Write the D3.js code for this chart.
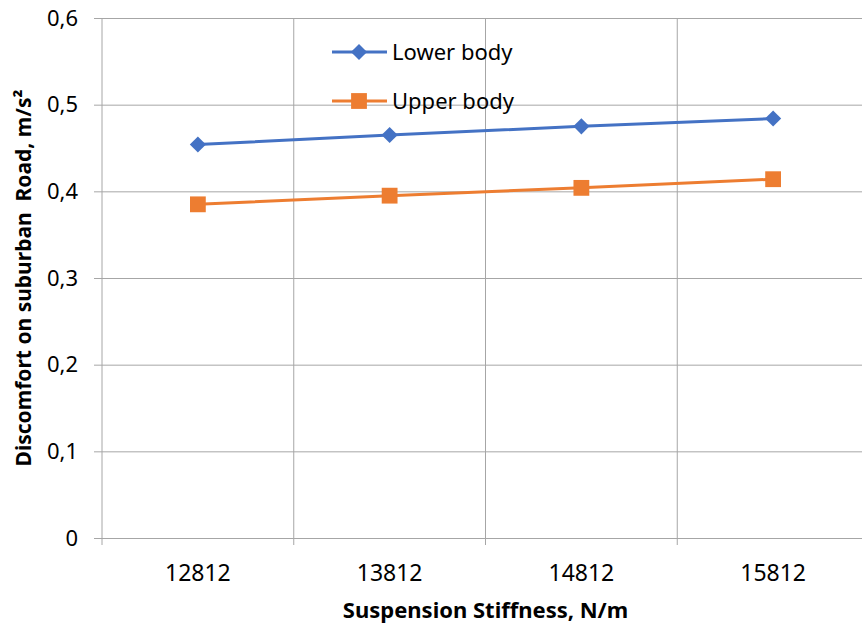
<!DOCTYPE html>
<html>
<head>
<meta charset="utf-8">
<script src="https://cdn.jsdelivr.net/npm/d3@7"></script>
<style>
  body { margin: 0; background: #fff; }
  svg { display: block; font-family: "Noto Sans", "Open Sans", sans-serif; }
  .grid line { stroke: #a6a6a6; stroke-width: 1; }
</style>
</head>
<body>
<svg id="chart"></svg>
<script>
// data
var stiffness = ["12812", "13812", "14812", "15812"];
var lowerBody = [0.454, 0.465, 0.475, 0.484];
var upperBody = [0.385, 0.395, 0.404, 0.414];
var yTicks = [0, 0.1, 0.2, 0.3, 0.4, 0.5, 0.6];

var W = 862, H = 630;
var plot = {left: 102, right: 869, top: 18, bottom: 538};
var blue = "#4472c4", orange = "#ed7d31";

var svg = d3.select("#chart").attr("width", W).attr("height", H);

var xScale = d3.scaleBand().domain(stiffness).range([plot.left, plot.right]).padding(0);
var yScale = d3.scaleLinear().domain([0, 0.6]).range([plot.bottom, plot.top]);

// horizontal gridlines + y tick labels
var yAxis = svg.append("g").attr("class", "grid")
  .attr("transform", "translate(" + plot.left + ",0)")
  .call(d3.axisLeft(yScale).tickValues(yTicks).tickSize(-(plot.right - plot.left)).tickSizeOuter(0)
    .tickFormat(function(d){ return d === 0 ? "0" : d3.format(".1f")(d).replace(".", ","); }));
yAxis.select(".domain").remove();
yAxis.selectAll(".tick line").attr("x1", -8);
yAxis.selectAll(".tick text").attr("x", -24).attr("font-size", 22).attr("fill", "#000").attr("font-family", "Noto Sans");

// vertical gridlines at band edges
var edges = stiffness.map(function(d){ return xScale(d); }).concat([plot.right]);
svg.append("g").attr("class", "grid").selectAll("line")
  .data(edges).join("line")
  .attr("x1", function(d){ return d; }).attr("x2", function(d){ return d; })
  .attr("y1", plot.top).attr("y2", plot.bottom + 7);

// x tick labels
svg.append("g").selectAll("text")
  .data(stiffness).join("text")
  .attr("x", function(d){ return xScale(d) + xScale.bandwidth() / 2; })
  .attr("y", 581)
  .attr("text-anchor", "middle")
  .attr("font-size", 23)
  .text(function(d){ return d; });

// series
var series = [
  {name: "Lower body", values: lowerBody, color: blue, size: 130, rot: 45},
  {name: "Upper body", values: upperBody, color: orange, size: 250, rot: 0}
];

var line = d3.line()
  .x(function(d, i){ return xScale(stiffness[i]) + xScale.bandwidth() / 2; })
  .y(function(d){ return yScale(d); });

series.forEach(function(s){
  svg.append("path").datum(s.values)
    .attr("d", line)
    .attr("fill", "none")
    .attr("stroke", s.color)
    .attr("stroke-width", 3);
  svg.append("g").selectAll("path")
    .data(s.values).join("path")
    .attr("transform", function(d, i){ return "translate(" + (xScale(stiffness[i]) + xScale.bandwidth() / 2) + "," + yScale(d) + ") rotate(" + s.rot + ")"; })
    .attr("d", d3.symbol().type(d3.symbolSquare).size(s.size))
    .attr("fill", s.color);
});

// legend
var legend = svg.append("g").selectAll("g")
  .data(series).join("g")
  .attr("transform", function(d, i){ return "translate(332," + (52 + i * 49) + ")"; });
legend.append("line")
  .attr("x1", 0).attr("x2", 55)
  .attr("stroke", function(d){ return d.color; })
  .attr("stroke-width", 3);
legend.append("path")
  .attr("transform", function(d){ return "translate(27,0) rotate(" + d.rot + ")"; })
  .attr("d", function(d){ return d3.symbol().type(d3.symbolSquare).size(d.size)(); })
  .attr("fill", function(d){ return d.color; });
legend.append("text")
  .attr("x", 60).attr("y", 8)
  .attr("font-size", 22)
  .text(function(d){ return d.name; });

// axis titles
svg.append("text")
  .attr("x", (plot.left + plot.right) / 2).attr("y", 618)
  .attr("text-anchor", "middle")
  .attr("font-size", 22).attr("font-weight", "bold")
  .text("Suspension Stiffness, N/m");

svg.append("text")
  .attr("transform", "translate(31," + ((plot.top + plot.bottom) / 2) + ") rotate(-90)")
  .attr("text-anchor", "middle")
  .attr("font-size", 21).attr("font-weight", "bold")
  .attr("xml:space", "preserve")
  .style("white-space", "pre")
  .text("Discomfort on suburban  Road, m/s²");
</script>
</body>
</html>
